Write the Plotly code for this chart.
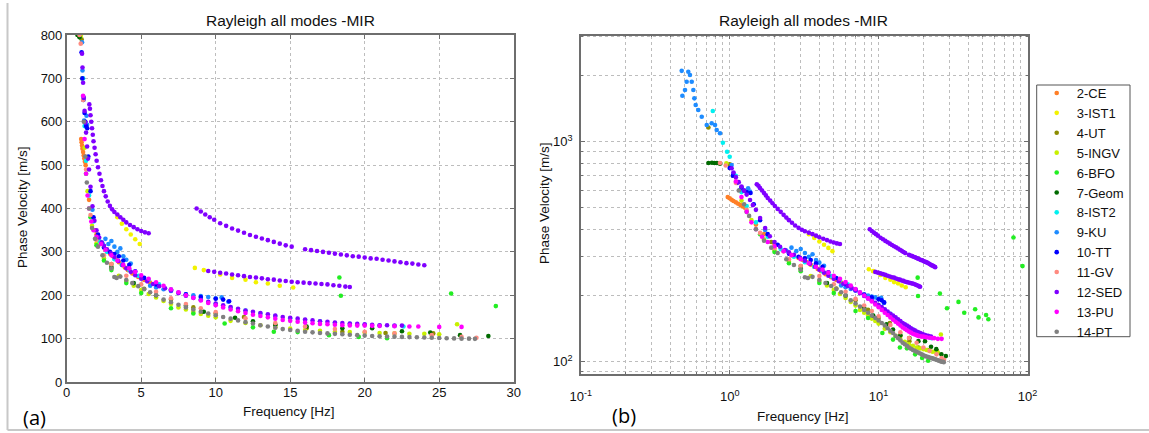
import plotly.graph_objects as go

W, H = 1149, 433

# ---------------- data (frequency [Hz], phase velocity [m/s]) ----------------
names = ["2-CE", "3-IST1", "4-UT", "5-INGV", "6-BFO", "7-Geom", "8-IST2",
         "9-KU", "10-TT", "11-GV", "12-SED", "13-PU", "14-PT"]
colors = ["#FF7F27", "#F2F200", "#8C8C00", "#C8F000", "#22EE22", "#006B00",
          "#00F0F0", "#1E8CFF", "#0000FF", "#FF8A80", "#8000FF", "#FF00FF", "#808080"]

CE_f = [0.97, 1.0, 1.03, 1.06, 1.1, 1.14, 1.18, 1.22, 1.27, 1.5, 1.7, 2.0, 2.3, 2.6, 2.9,
        3.1, 3.3, 3.5, 3.7, 3.9, 4.1, 4.4, 4.8, 5.2, 5.6]
CE_v = [560, 553, 545, 538, 530, 522, 515, 508, 500, 420, 380, 340, 318, 305, 296,
        290, 283, 276, 270, 264, 258, 250, 242, 235, 229]

IST1_f = [3.4, 3.7, 4.0, 4.3, 4.6, 4.9, 8.6, 9.2, 10.3, 11.1, 12.0, 12.7, 13.5, 14.3, 15.2]
IST1_v = [380, 365, 352, 340, 329, 318, 263, 258, 248, 240, 236, 230, 227, 222, 218]

UT_f = [0.72, 1.0, 1.9, 3.0, 5.2, 7.0, 8.5, 10.0, 11.9, 14.0, 16.1, 18.5, 21.4, 24.6]
UT_v = [1160, 790, 350, 272, 215, 190, 172, 158, 150, 131, 124, 116, 113, 112]

INGV_f = [0.95, 1.05, 1.2, 1.4, 1.7, 2.0, 2.5, 3.0, 3.5, 4.0, 4.5, 5.0, 5.5, 6.0, 6.5, 7.0,
          7.5, 8.0, 8.5, 9.0, 9.5, 10, 11, 12, 13, 14, 15, 16, 17, 18, 19, 20, 21, 22, 23,
          24, 25, 26.2]
INGV_v = [798, 700, 540, 440, 360, 320, 285, 262, 245, 233, 222, 212, 203, 195, 187, 180,
          172, 167, 162, 157, 153, 149, 141, 136, 131, 126, 123, 120, 118, 116, 115, 114,
          113, 112, 111, 111, 110, 133]

BFO_f = [1.3, 1.6, 2.0, 2.5, 3.0, 4.0, 5.0, 7.0, 8.5, 10.6, 12.5, 13.9, 15.5, 17.6, 19.6,
         21.5, 18.3, 18.4, 25.8, 28.8, 34.4, 37.6, 44.5, 46.9, 52.7, 54.6, 80.5, 92.6]
BFO_v = [480, 380, 315, 280, 258, 228, 205, 170, 158, 135, 126, 116, 115, 108, 104,
         101, 241, 199, 204, 175, 187, 167, 173, 159, 163, 156, 367, 272]

GEOM_f = [0.72, 0.76, 0.79, 0.82, 0.86, 3.0, 4.5, 6.0, 8.0, 9.2, 11.3, 12.5, 14.0, 16.1,
          18.5, 20.5, 22.5, 24.4, 26.4, 28.3]
GEOM_v = [800, 803, 800, 800, 795, 265, 228, 200, 176, 162, 148, 140, 132, 128,
          124, 124, 117, 114, 108, 106]

IST2_f = [0.77, 0.9, 0.96, 1.0, 1.1, 1.2, 1.3, 1.5, 1.8, 2.2, 2.7, 3.2, 3.7, 4.2, 4.8, 5.5,
          6.2, 7.0, 8.0, 9.0, 10, 11, 12, 13, 14, 15, 16, 17, 18, 19, 20, 21, 22, 22.6]
IST2_v = [1380, 990, 900, 855, 700, 590, 510, 430, 370, 325, 300, 283, 270, 258, 245, 235,
          225, 213, 200, 190, 180, 172, 165, 158, 152, 147, 143, 140, 136, 134, 132, 130,
          129, 128]

KU_f = [0.476, 0.527, 0.541, 0.514, 0.556, 0.501, 0.481, 0.570, 0.579, 0.591, 0.615, 0.649,
        0.701, 0.757, 0.797, 0.818, 0.861, 1.03, 1.06, 1.11, 1.17, 1.33, 1.37, 1.73,
        2.4, 2.6, 2.8, 3.0, 3.2, 3.4, 3.6, 3.8, 4.0, 4.3,
        5.6, 6.0, 6.5, 7.0, 7.5, 8.0, 8.5, 9.0, 9.5, 10.0, 10.4, 10.85]
KU_v = [2100, 2080, 2010, 1874, 1874, 1718, 1619, 1718, 1575, 1468, 1393, 1299,
        1191, 1213, 1191, 1130, 1092, 783, 718, 658, 603, 614, 593, 397,
        320, 330, 318, 325, 312, 300, 308, 290, 282, 273,
        222, 218, 214, 210, 206, 202, 200, 198, 196, 193, 195, 185]

TT_f = [1.0, 1.05, 1.12, 1.2, 1.25, 1.3, 1.38, 1.45, 1.6, 1.8, 2.1, 2.5, 2.9, 3.2, 3.5, 3.8,
        4.2, 4.6, 5.2, 6.0, 7.0, 8.0, 9.0, 10.0, 10.5, 10.9]
TT_v = [760, 700, 650, 620, 600, 590, 585, 520, 440, 380, 340, 310, 300, 295, 290, 280,
        270, 255, 240, 225, 212, 202, 196, 192, 190, 186]

GV_f = [0.86, 0.94, 1.1, 1.3, 1.6, 2.0, 2.5, 3.0, 4.0, 5.0, 6.0, 7.0, 8.0, 9.0, 10, 12, 14,
        16, 18, 20, 22, 24.5, 26.5, 27.5]
GV_v = [800, 780, 650, 490, 385, 328, 292, 272, 245, 225, 208, 193, 180, 170, 161, 147, 136,
        128, 122, 116, 112, 108, 104, 102]

SED_f = [1.03, 1.06, 1.1, 1.15, 1.2, 1.25, 1.3, 1.37, 1.43, 1.5, 1.6, 1.73, 1.86, 2.0, 2.18,
         2.35, 2.5, 2.7, 2.97, 3.2, 3.46, 3.75, 4.0, 4.3, 4.6, 5.0, 5.4, 5.8, 6.2, 6.6, 7.0,
         7.5, 8.0, 8.5, 9.0, 9.5, 10, 10.5, 11, 11.5, 12, 12.5, 13, 13.5, 14, 14.5, 15,
         15.5, 16, 16.5, 17, 17.5, 18, 18.5, 19, 19.5, 20, 20.5, 21, 21.5, 22, 22.5,
         1.52, 1.56, 1.6, 1.65, 1.7, 1.75, 1.8, 1.87, 1.94, 2.01, 2.1, 2.2, 2.3, 2.4, 2.5,
         2.62, 2.75, 2.9, 3.05, 3.2, 3.4, 3.6, 3.8, 4.0, 4.25, 4.5, 4.75, 5.0, 5.25, 5.5,
         8.72, 9.0, 9.3, 9.6, 9.9, 10.3, 10.7, 11.1, 11.5, 11.9, 12.3, 12.7, 13.1, 13.5,
         13.9, 14.3, 14.7, 15.1,
         16.0, 16.4, 16.8, 17.2, 17.6, 18.0, 18.4, 18.8, 19.2, 19.6, 20.0, 20.4, 20.8, 21.2,
         21.6, 22.0, 22.4, 22.8, 23.2, 23.6, 24.0,
         9.5, 9.9, 10.3, 10.7, 11.1, 11.5, 11.9, 12.3, 12.7, 13.1, 13.5, 13.9, 14.3, 14.7,
         15.1, 15.5, 15.9, 16.3, 16.7, 17.1, 17.5, 17.9, 18.3, 18.7, 19.0]
SED_v = [757, 725, 690, 655, 625, 598, 575, 543, 515, 490, 450, 405, 372, 350, 333,
         322, 314, 306, 297, 288, 279, 270, 262, 254, 246, 238, 232, 226, 221, 216, 211,
         205, 199, 194, 189, 185, 181, 177, 173, 169, 165, 162, 159, 156, 153, 150, 148,
         146, 144, 142, 140, 139, 137, 136, 135, 134, 133, 132, 131, 131, 130, 130,
         640, 630, 615, 600, 585, 570, 555, 540, 525, 510, 495, 480, 465, 452, 440,
         428, 416, 406, 398, 392, 386, 380, 374, 368, 362, 357, 352, 348, 345, 343,
         400, 393, 386, 380, 374, 366, 360, 354, 349, 344, 339, 335, 331, 327,
         323, 319, 315, 312,
         306, 304, 302, 300, 298, 296, 294, 292, 290, 289, 287, 285, 284, 282,
         280, 278, 276, 274, 273, 271, 269,
         256, 254, 252, 250, 248, 246, 244, 242, 241, 239, 237, 236, 234, 233,
         231, 230, 229, 228, 227, 226, 225, 223, 222, 220, 219]

PU_f = [1.1, 1.2, 1.3, 1.4, 1.5, 1.65, 1.8, 2.0, 2.3, 2.6, 3.0, 3.4, 3.8, 4.2, 4.6, 5.0, 5.5,
        6.0, 6.5, 7.0, 7.5, 8.0, 8.5, 9.0, 9.5, 10, 10.5, 11, 11.5, 12, 12.5, 13, 13.5, 14,
        14.5, 15, 15.5, 16, 16.5, 17, 17.5, 18, 18.5, 19, 19.5, 20, 20.5, 21, 22, 23, 23.6,
        25, 26.5]
PU_v = [660, 560, 480, 430, 400, 370, 350, 335, 318, 305, 292, 280, 270, 262, 254, 246, 238,
        230, 222, 214, 207, 200, 194, 188, 182, 177, 172, 167, 163, 159, 155, 152, 149, 146,
        143, 141, 139, 137, 135.5, 134, 133, 132, 131, 130.5, 130, 130, 129.5, 129, 128.5,
        128, 128, 127, 127]

PT_f = [1.15, 1.25, 1.35, 1.5, 1.7, 1.9, 2.1, 2.4, 2.7, 3.0, 3.2, 3.35, 3.6, 4.0, 4.4, 4.8,
        5.2, 5.6, 6.0, 6.5, 7.0, 7.5, 8.0, 8.5, 9.0, 9.5, 10, 10.5, 11, 11.5, 12, 12.5, 13,
        13.5, 14, 14.5, 15, 15.5, 16, 16.5, 17, 17.5, 18, 18.5, 19, 19.5, 20, 20.5, 21, 21.5,
        22, 22.5, 23, 23.5, 24, 24.5, 25, 25.5, 26, 26.5, 27, 27.4]
PT_v = [600, 520, 460, 400, 355, 330, 312, 292, 275, 262, 242, 240, 243, 235, 228, 221,
        214, 207, 200, 190, 184, 178, 172, 167, 162, 158, 154, 150, 146, 142, 138, 135, 131,
        128, 125, 122, 120, 118, 116, 114.5, 113, 112, 111, 110, 109, 108, 107, 106, 105.5, 105,
        104.5, 104, 103.5, 103, 102.5, 102, 101.5, 101, 100.5, 100, 100, 99.5]

series_f = [CE_f, IST1_f, UT_f, INGV_f, BFO_f, GEOM_f, IST2_f, KU_f, TT_f, GV_f, SED_f, PU_f, PT_f]
series_v = [CE_v, IST1_v, UT_v, INGV_v, BFO_v, GEOM_v, IST2_v, KU_v, TT_v, GV_v, SED_v, PU_v, PT_v]

lin_xticks = [0, 5, 10, 15, 20, 25, 30]
lin_yticks = [0, 100, 200, 300, 400, 500, 600, 700, 800]
log_xticks = [0.1, 1, 10, 100]
log_xticktext = ["10<sup>-1</sup>", "10<sup>0</sup>", "10<sup>1</sup>", "10<sup>2</sup>"]
log_yticks = [100, 1000]
log_yticktext = ["10<sup>2</sup>", "10<sup>3</sup>"]
title_text = "Rayleigh all modes -MIR"
xlabel = "Frequency [Hz]"
ylabel = "Phase Velocity [m/s]"

# ---------------- figure ----------------
FONT = "Liberation Sans, Arial, sans-serif"
fig = go.Figure()

for i, (nm, c) in enumerate(zip(names, colors)):
    fx, fy = series_f[i], series_v[i]
    fig.add_trace(go.Scatter(x=fx, y=fy, mode="markers", name=nm,
                             marker=dict(color=c, size=4.6, line=dict(width=0)),
                             xaxis="x", yaxis="y", showlegend=False, cliponaxis=True))
    fig.add_trace(go.Scatter(x=fx, y=fy, mode="markers", name=nm,
                             marker=dict(color=c, size=4.6, line=dict(width=0)),
                             xaxis="x2", yaxis="y2", showlegend=True, cliponaxis=True))


def px(x):
    return x / W


def py(y):
    return 1 - y / H


def minor_vals(decades):
    return [d * k for d in decades for k in range(2, 10)]


minor_common = dict(showgrid=True, gridcolor="#BDBDBD", griddash="dot", gridwidth=1,
                    ticks="inside", ticklen=2, tickcolor="#6E6E6E")

axcommon = dict(showline=True, linecolor="#6E6E6E", linewidth=1.5, mirror="ticks",
                ticks="inside", ticklen=4, tickcolor="#6E6E6E", automargin=False,
                showgrid=True, gridcolor="#BDBDBD", griddash="dot", gridwidth=1,
                zeroline=False, tickfont=dict(family=FONT, size=13, color="#111"))

fig.update_layout(
    template="none",
    width=W, height=H, margin=dict(l=0, r=0, t=0, b=0, pad=0, autoexpand=False),
    paper_bgcolor="white", plot_bgcolor="white",
    font=dict(family=FONT, size=13, color="#111"),
    xaxis=dict(domain=[px(66.7), px(513.7)], range=[0, 30], tickvals=lin_xticks,
               anchor="y", ticklabelstandoff=-2, **axcommon),
    yaxis=dict(domain=[py(382), py(35)], range=[0, 800], tickvals=lin_yticks,
               anchor="x", **axcommon),
    xaxis2=dict(domain=[px(580.8), px(1027.5)], type="log", range=[-1, 2],
                tickvals=log_xticks, ticktext=log_xticktext, anchor="y2", ticklabelstandoff=10,
                minor=dict(tickvals=minor_vals([0.1, 1, 10]), **minor_common), **axcommon),
    yaxis2=dict(domain=[py(374), py(35.7)], type="log", range=[1.944, 3.482],
                tickvals=log_yticks, ticktext=log_yticktext, anchor="x2", ticklabelstandoff=4,
                minor=dict(tickvals=minor_vals([10, 100, 1000]), **minor_common), **axcommon),
    showlegend=True,
    legend=dict(x=px(1036.7), y=py(78), xanchor="left", yanchor="top",
                bgcolor="rgba(0,0,0,0)", borderwidth=0,
                font=dict(family=FONT, size=13, color="#111"),
                tracegroupgap=0, itemwidth=30),
)


def note(x, y, text, size, angle=0, family=None):
    f = dict(size=size)
    if family:
        f["family"] = family
        f["color"] = "#000"
    return dict(x=px(x), y=py(y), text=text, showarrow=False, textangle=angle,
                xref="paper", yref="paper", xanchor="center", yanchor="middle", font=f)


ann = [
    note(290, 21, title_text, 15.5),
    note(803, 21, title_text, 15.5),
    note(289, 411, xlabel, 13.5),
    note(803, 416, xlabel, 13.5),
    note(22, 207, ylabel, 13.5, -90),
    note(545, 203, ylabel, 13.5, -90),
    note(34, 417, "(a)", 20, 0, "Open Sans, sans-serif"),
    note(624, 415, "(b)", 20, 0, "Open Sans, sans-serif"),
]
fig.update_layout(annotations=ann)

fig.update_layout(shapes=[
    dict(type="line", xref="paper", yref="paper", x0=px(7.5), x1=px(7.5), y0=py(3), y1=py(430),
         line=dict(color="#C8C8C8", width=2)),
    dict(type="line", xref="paper", yref="paper", x0=px(7.5), x1=1, y0=py(430), y1=py(430),
         line=dict(color="#C8C8C8", width=2)),
    dict(type="rect", xref="paper", yref="paper", x0=px(1036.7), x1=px(1130),
         y0=py(336.7), y1=py(85), line=dict(color="#555", width=1), fillcolor="white",
         layer="below"),
])

fig.write_html("out.html", config={"displayModeBar": False},
               post_script="document.body.style.margin='0px';")
